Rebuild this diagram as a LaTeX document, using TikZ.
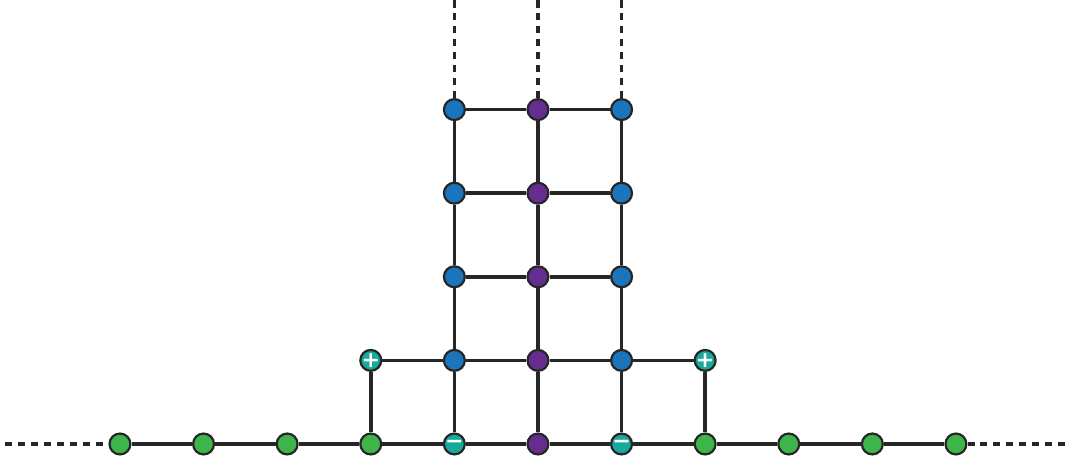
\documentclass[tikz,border=0pt]{standalone}
\usepackage{fontspec}
\newfontfamily\signfont{DejaVu Sans}
\usetikzlibrary{positioning}
\definecolor{sitegreen}{HTML}{3DB54A}
\definecolor{siteblue}{HTML}{1A75BC}
\definecolor{sitepurple}{HTML}{662D91}
\definecolor{siteteal}{HTML}{17A99B}
\tikzstyle{site} = [circle, draw=black!85, line width=0.75pt, minimum size=0.25cm, inner sep=0pt]
\tikzstyle{chain} = [site, fill=sitegreen]
\tikzstyle{leg} = [site, fill=siteblue]
\tikzstyle{spine} = [site, fill=sitepurple]
\tikzstyle{charge} = [site, fill=siteteal]
\tikzstyle{sign} = [text=white, inner sep=0pt, font=\signfont\bfseries\fontsize{7.5}{7.5}\selectfont]
\tikzstyle{bond} = [draw=black!85, line width=1.2pt]
\tikzstyle{tail} = [bond, dash pattern=on 2.4pt off 2pt]

\begin{document}
\begin{tikzpicture}[node distance = 1cm]
	\useasboundingbox (-1.435,-0.203) rectangle (11.388,5.311);
	
	% bottom chain
	\node [chain] (b0) at (0,0) {};
	\node [chain, right of=b0] (b1) {};
	\node [chain, right of=b1] (b2) {};
	\node [chain, right of=b2] (b3) {};
	\node [charge, right of=b3, label={[sign]center:−}] (b4) {};
	\node [spine, right of=b4] (b5) {};
	\node [charge, right of=b5, label={[sign]center:−}] (b6) {};
	\node [chain, right of=b6] (b7) {};
	\node [chain, right of=b7] (b8) {};
	\node [chain, right of=b8] (b9) {};
	\node [chain, right of=b9] (b10) {};
	
	% ladder
	\node [charge, above of=b3, label={[sign]center:+}] (pl) {};
	\node [leg, above of=b4] (l1) {};
	\node [spine, above of=b5] (m1) {};
	\node [leg, above of=b6] (r1) {};
	\node [charge, above of=b7, label={[sign]center:+}] (pr) {};
	\node [leg, above of=l1] (l2) {};
	\node [spine, above of=m1] (m2) {};
	\node [leg, above of=r1] (r2) {};
	\node [leg, above of=l2] (l3) {};
	\node [spine, above of=m2] (m3) {};
	\node [leg, above of=r2] (r3) {};
	\node [leg, above of=l3] (l4) {};
	\node [spine, above of=m3] (m4) {};
	\node [leg, above of=r3] (r4) {};
	
	% open ends
	\coordinate (endl) at (-1.375,0);
	\coordinate (endr) at (11.36,0);
	\coordinate (topl) at (4,5.311);
	\coordinate (topm) at (5,5.311);
	\coordinate (topr) at (6,5.311);
	
	% Draw edges
	\path [bond] (b0) -- (b1) -- (b2) -- (b3) -- (b4) -- (b5) -- (b6) -- (b7) -- (b8) -- (b9) -- (b10);
	\path [bond] (pl) -- (l1) -- (m1) -- (r1) -- (pr);
	\path [bond] (l2) -- (m2) -- (r2);
	\path [bond] (l3) -- (m3) -- (r3);
	\path [bond] (l4) -- (m4) -- (r4);
	\path [bond] (b3) -- (pl);
	\path [bond] (b7) -- (pr);
	\path [bond] (b4) -- (l1) -- (l2) -- (l3) -- (l4);
	\path [bond] (b5) -- (m1) -- (m2) -- (m3) -- (m4);
	\path [bond] (b6) -- (r1) -- (r2) -- (r3) -- (r4);
	\path [tail] (endl) -- (b0);
	\path [tail] (b10) -- (endr);
	\path [tail] (l4) -- (topl);
	\path [tail] (m4) -- (topm);
	\path [tail] (r4) -- (topr);
	
\end{tikzpicture}
\end{document}
